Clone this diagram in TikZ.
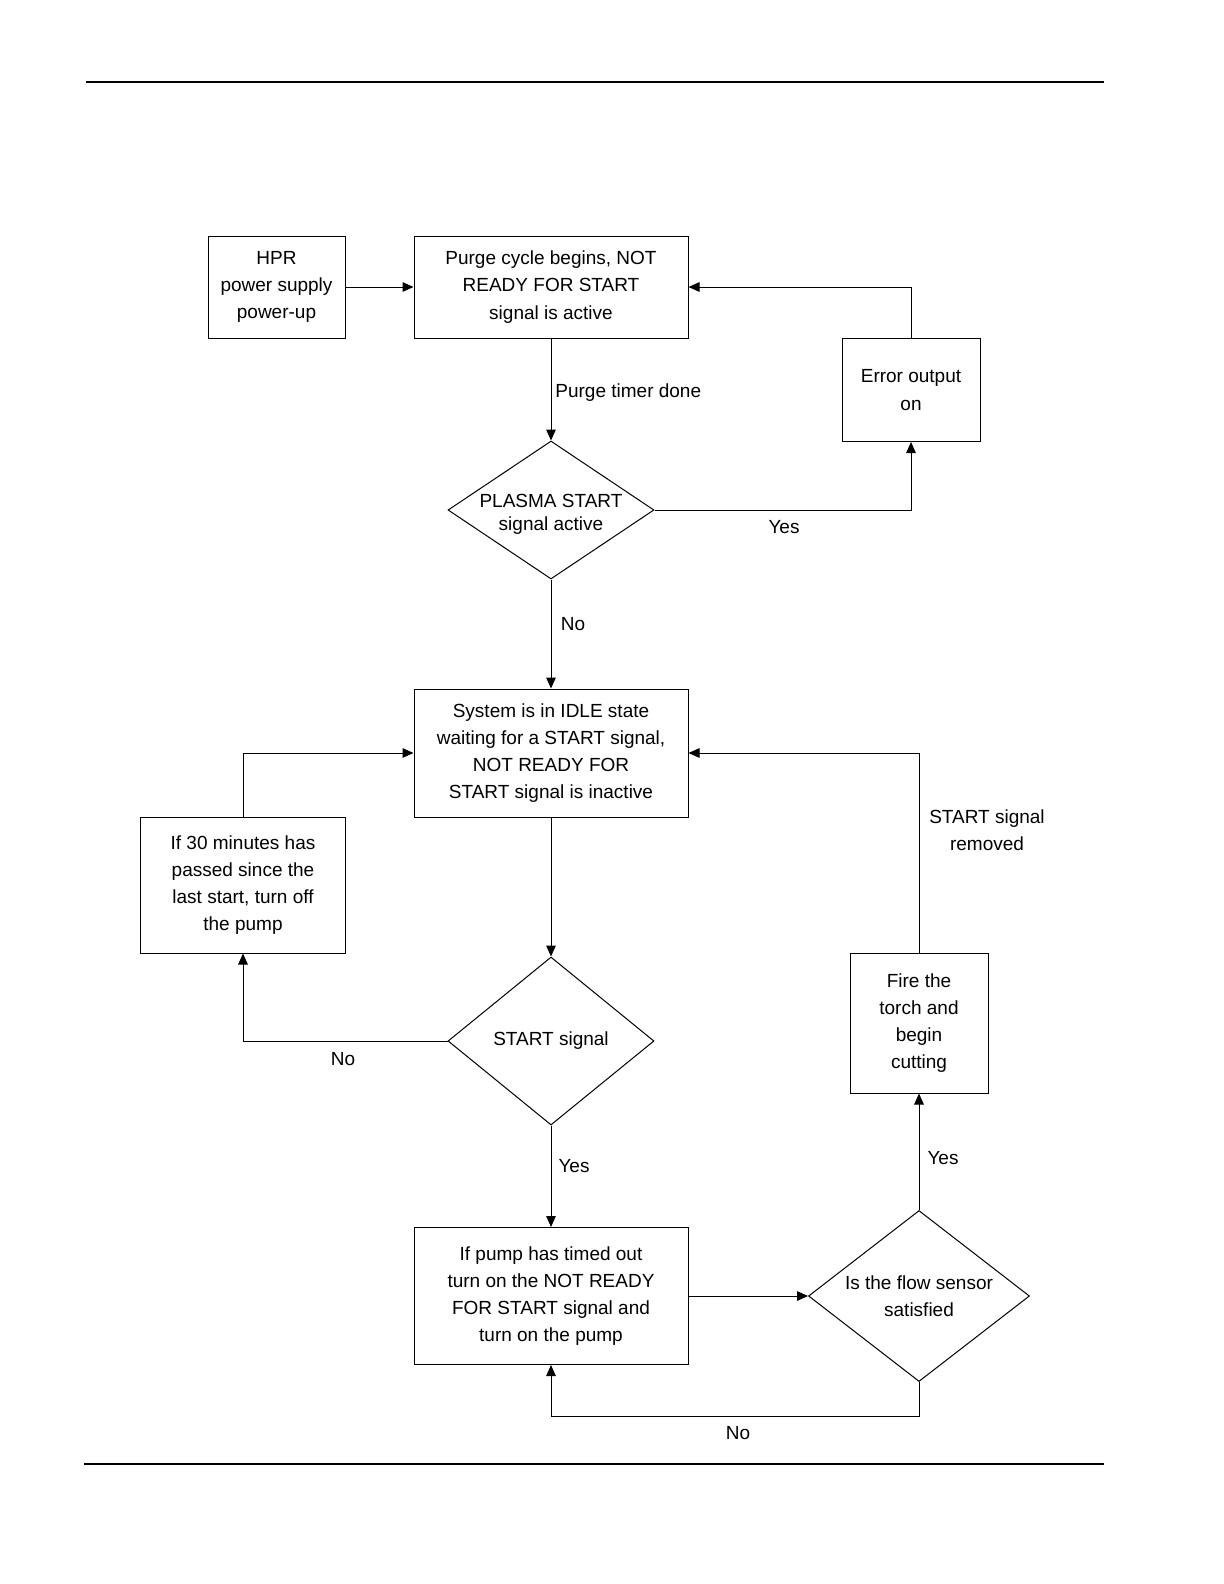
\documentclass[tikz,border=0pt]{standalone}
\usepackage{fontspec}
\setmainfont{Liberation Sans}
\usetikzlibrary{shapes.geometric,arrows.meta,positioning}

\tikzset{
  stepbox/.style={draw, line width=0.5pt, align=center, inner sep=0pt},
  choice/.style={draw, diamond, aspect=1.4, line width=0.5pt, align=center, inner sep=-3pt},
  flow/.style={draw, line width=0.5pt, -{Triangle[length=5.5pt,width=4.8pt]}},
  lbl/.style={inner sep=0pt, align=center},
}

\begin{document}
\begin{tikzpicture}[x=0.5pt,y=-0.5pt,font=\fontsize{9.5}{13.6}\selectfont]
	\useasboundingbox (0,0) rectangle (1224,1584);
	% page rules
	\draw[line width=0.8pt] (86,82) -- (1104,82);
	\draw[line width=0.8pt] (84,1464) -- (1104,1464);

	% boxes and decisions
	\node[stepbox, minimum width=68.5pt, minimum height=51pt] (hpr) at (276.5,287) {HPR\\power supply\\power-up};
	\node[stepbox, minimum width=137pt, minimum height=51pt] (purge) at (551,287) {Purge cycle begins, NOT\\READY FOR START\\signal is active};
	\node[stepbox, minimum width=69pt, minimum height=51.5pt] (error) at (911,390) {Error output\\on};
	\node[choice, aspect=1.5, minimum width=103pt, minimum height=69pt, font=\fontsize{9.5}{11.5}\selectfont] (plasma) at (551,510)
		{\raisebox{-2pt}[\height][\depth]{\begin{tabular}{@{}c@{}}PLASMA START\\signal active\end{tabular}}};
	\node[stepbox, minimum width=137pt, minimum height=64pt] (idle) at (551,753) {System is in IDLE state\\waiting for a START signal,\\NOT READY FOR\\START signal is inactive};
	\node[stepbox, minimum width=102.5pt, minimum height=68pt] (timeout) at (243,885) {If 30 minutes has\\passed since the\\last start, turn off\\the pump};
	\node[choice, minimum width=103pt, minimum height=84pt] (startq) at (551,1041) {START signal};
	\node[stepbox, minimum width=69pt, minimum height=70pt] (fire) at (919,1023) {Fire the\\torch and\\begin\\cutting};
	\node[stepbox, minimum width=137pt, minimum height=68.5pt] (pump) at (551,1296) {If pump has timed out\\turn on the NOT READY\\FOR START signal and\\turn on the pump};
	\node[choice, minimum width=110.5pt, minimum height=85.5pt] (flowq) at (919,1296) {Is the flow sensor\\satisfied};
	\coordinate (noturn) at (919,1416);

	% connectors
	\draw[flow] (hpr.east) -- (purge.west);
	\draw[flow] (error.north) |- (purge.east);
	\draw[flow] (purge.south) -- (plasma.north);
	\draw[flow] (plasma.east) -| (error.south);
	\draw[flow] (plasma.south) -- (idle.north);
	\draw[flow] (idle.south) -- (startq.north);
	\draw[flow] (startq.west) -| (timeout.south);
	\draw[flow] (timeout.north) |- (idle.west);
	\draw[flow] (startq.south) -- (pump.north);
	\draw[flow] (pump.east) -- (flowq.west);
	\draw[flow] (flowq.south) -- (noturn) -| (pump.south);
	\draw[flow] (flowq.north) -- (fire.south);
	\draw[flow] (fire.north) |- (idle.east);

	% labels
	\node[lbl, anchor=west] (ltimer) at (555,393) {Purge timer done};
	\node[lbl] (lyes1) at (784,527) {Yes};
	\node[lbl] (lno1) at (573,624) {No};
	\node[lbl] (lno2) at (343,1059) {No};
	\node[lbl] (lyes2) at (574,1166) {Yes};
	\node[lbl] (lno3) at (738,1433) {No};
	\node[lbl] (lyes3) at (943,1158) {Yes};
	\node[lbl] (lremoved) at (987,830) {START signal\\removed};
\end{tikzpicture}
\end{document}
